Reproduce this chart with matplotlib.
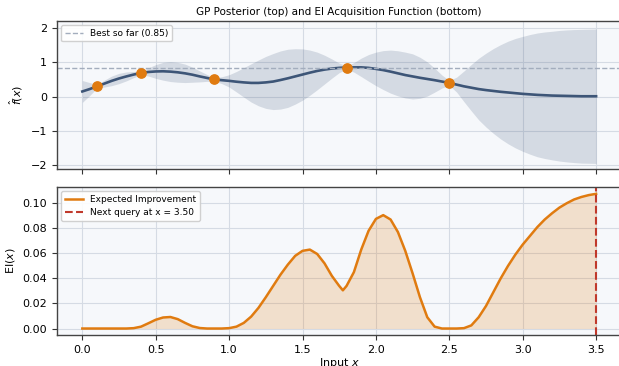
import numpy as np
import matplotlib
matplotlib.use("Agg")
import matplotlib.pyplot as plt

# sample grid for the curves (step 0.05 from 0 to 3.5)
x_grid = np.linspace(0, 3.5, 71)

# posterior mean
gp_mean = [0.15, 0.22, 0.30, 0.38, 0.46, 0.53, 0.59, 0.645, 0.69, 0.72,
           0.735, 0.74, 0.73, 0.71, 0.68, 0.64, 0.59, 0.545, 0.50, 0.48,
           0.46, 0.435, 0.415, 0.40, 0.40, 0.415, 0.44, 0.485, 0.535, 0.59,
           0.645, 0.70, 0.75, 0.79, 0.82, 0.84, 0.85, 0.855, 0.855, 0.84,
           0.81, 0.775, 0.73, 0.68, 0.63, 0.59, 0.55, 0.515, 0.48, 0.44,
           0.40, 0.35, 0.30, 0.26, 0.22, 0.19, 0.165, 0.14, 0.12, 0.10,
           0.08, 0.065, 0.05, 0.04, 0.03, 0.025, 0.02, 0.015, 0.01, 0.01,
           0.01]

# half width of the shaded band
gp_band = [0.32, 0.19, 0.05, 0.10, 0.14, 0.15, 0.13, 0.09, 0.05, 0.12,
           0.20, 0.26, 0.29, 0.29, 0.27, 0.22, 0.16, 0.10, 0.05, 0.10,
           0.18, 0.30, 0.43, 0.56, 0.67, 0.76, 0.82, 0.85, 0.85, 0.81,
           0.75, 0.66, 0.55, 0.42, 0.28, 0.14, 0.05, 0.14, 0.27, 0.39,
           0.49, 0.57, 0.63, 0.66, 0.67, 0.66, 0.60, 0.50, 0.35, 0.19,
           0.07, 0.22, 0.45, 0.68, 0.90, 1.08, 1.24, 1.38, 1.50, 1.60,
           1.68, 1.75, 1.81, 1.85, 1.88, 1.91, 1.93, 1.945, 1.955, 1.96,
           1.965]

# expected improvement (extra sample at the dip near 1.775)
ei_x = np.insert(x_grid, 36, 1.775)
ei_vals = [0.0, 0.0, 0.0, 0.0, 0.0, 0.0, 0.0, 0.0003, 0.0015, 0.0042,
           0.0070, 0.0088, 0.0092, 0.0075, 0.0045, 0.0018, 0.0004, 0.0, 0.0, 0.0,
           0.0003, 0.0015, 0.0045, 0.0095, 0.0165, 0.025, 0.034, 0.043, 0.051, 0.058,
           0.062, 0.063, 0.0595, 0.052, 0.042, 0.034, 0.0305, 0.034, 0.045, 0.063, 0.078,
           0.0875, 0.0905, 0.087, 0.077, 0.062, 0.044, 0.025, 0.009, 0.0015, 0.0,
           0.0, 0.0, 0.0003, 0.0025, 0.009, 0.018, 0.029, 0.040, 0.050, 0.059,
           0.067, 0.074, 0.081, 0.087, 0.092, 0.0965, 0.100, 0.103, 0.105, 0.1065,
           0.1075]

obs_x = [0.1, 0.4, 0.9, 1.8, 2.5]
obs_y = [0.3, 0.7, 0.5, 0.85, 0.4]
best_so_far = 0.85
next_query = 3.50

mean = np.array(gp_mean)
band = np.array(gp_band)

c_mean = "#3d5577"
c_orange = "#e07b10"
c_red = "#c0392b"
bg = "#f6f8fb"
grid_c = "#d5dbe4"

plt.rcParams["font.family"] = "DejaVu Sans"

fig = plt.figure(figsize=(6.19, 3.66), dpi=100)
ax1 = fig.add_axes([0.0915, 0.538, 0.913, 0.4055])
ax2 = fig.add_axes([0.0915, 0.0839, 0.913, 0.406], sharex=ax1)

for ax in (ax1, ax2):
    ax.set_facecolor(bg)
    ax.grid(True, color=grid_c, linewidth=0.8)
    ax.set_axisbelow(True)
    for s in ax.spines.values():
        s.set_color("#444444")
        s.set_linewidth(1.0)
    ax.tick_params(labelsize=8, length=3.5, width=0.8, color="#333333")

# top: GP posterior
ax1.fill_between(x_grid, mean - band, mean + band, color=c_mean, alpha=0.18, linewidth=0)
ax1.plot(x_grid, mean, color=c_mean, linewidth=1.9)
ax1.axhline(best_so_far, color="#a3adbd", linestyle="--", linewidth=1.0,
            label="Best so far (%.2f)" % best_so_far)
ax1.scatter(obs_x, obs_y, s=45, color=c_orange, zorder=5)
ax1.set_ylim(-2.12, 2.22)
ax1.set_yticks([-2, -1, 0, 1, 2])
ax1.set_ylabel(r"$\hat{f}(x)$", fontsize=8)
ax1.set_title("GP Posterior (top) and EI Acquisition Function (bottom)", fontsize=7.5, pad=4)
ax1.legend(loc="upper left", fontsize=6.5, framealpha=0.9, edgecolor="#cccccc")
plt.setp(ax1.get_xticklabels(), visible=False)

# bottom: expected improvement
ax2.fill_between(ei_x, 0, ei_vals, color=c_orange, alpha=0.2, linewidth=0)
ax2.plot(ei_x, ei_vals, color=c_orange, linewidth=1.8, label="Expected Improvement")
ax2.axvline(next_query, color=c_red, linestyle="--", linewidth=1.5,
            label="Next query at x = %.2f" % next_query)
ax2.set_ylim(-0.0054, 0.1132)
ax2.set_yticks([0.0, 0.02, 0.04, 0.06, 0.08, 0.10])
ax2.set_yticklabels(["0.00", "0.02", "0.04", "0.06", "0.08", "0.10"])
ax2.set_ylabel(r"EI$(x)$", fontsize=8)
ax2.set_xlabel(r"Input $x$", fontsize=8, labelpad=1)
ax2.set_xlim(-0.175, 3.675)
ax2.set_xticks([0.0, 0.5, 1.0, 1.5, 2.0, 2.5, 3.0, 3.5])
ax2.legend(loc="upper left", fontsize=6.5, framealpha=0.9, edgecolor="#cccccc")

fig.savefig("out.png", dpi=100)
